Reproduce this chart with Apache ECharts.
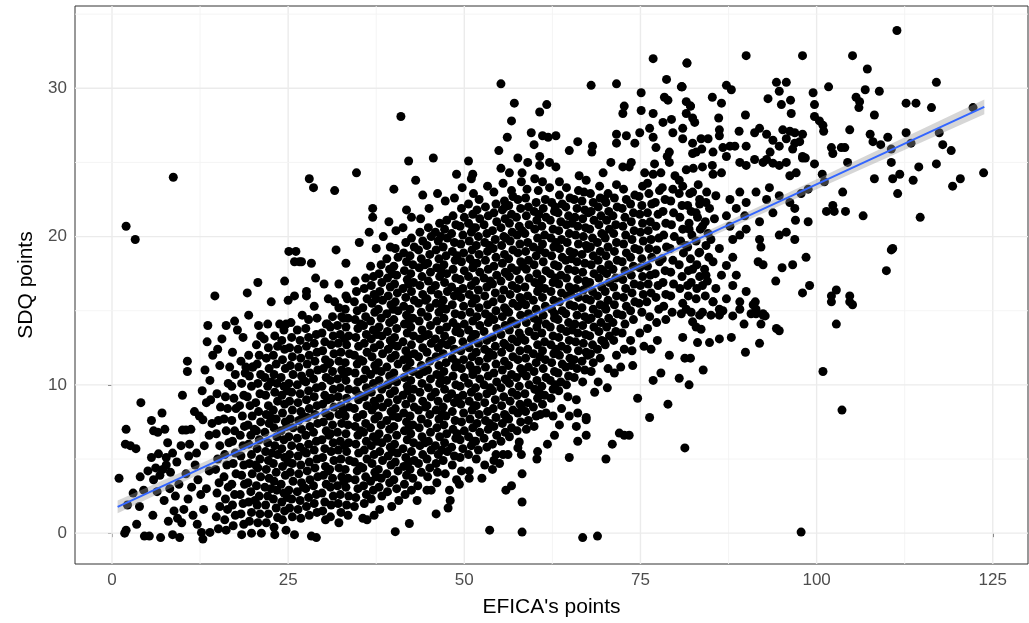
<!DOCTYPE html>
<html><head><meta charset="utf-8">
<script src="https://cdn.jsdelivr.net/npm/echarts@6/dist/echarts.min.js"></script>
<style>html,body{margin:0;padding:0;background:#fff}#c{width:1029px;height:623px}</style>
</head><body><div id="c"></div>
<script>
// Axis ticks / gridlines
const xTicks=[0,25,50,75,100,125];
const xMinor=[12.5,37.5,62.5,87.5,112.5];
const yTicks=[0,10,20,30];
const yMinor=[5,15,25,35];
// Fitted line (lm) and its confidence band
const fitX=[0.8,123.8];
const fitY=[1.77,28.75];
const bandX=[0.8,20,40,60,80,100,123.8];
const bandLo=[1.35,5.7,10.18,14.6,18.93,23.2,28.25];
const bandHi=[2.2,6.26,10.56,14.92,19.37,23.86,29.25];
// Observations [EFICA's points, SDQ points]
const leftFringe=[[1.0,3.7],[2.0,20.7],[3.3,19.8],[8.7,24.0],[2.0,7.0],[1.9,6.0],[2.6,5.9],[3.4,5.7],[4.1,8.8],[5.6,7.6],[5.9,6.9],[6.5,6.8],[7.1,8.1],[7.5,7.0],[10.0,9.3],[10.0,6.95],[10.5,6.95],[11.2,7.0],[11.7,8.2],[12.4,7.9],[12.9,7.65],[9.8,5.9],[11.0,6.0],[5.6,5.1],[6.6,5.35],[7.7,5.1],[8.6,5.4],[5.1,4.2],[5.9,3.6],[7.2,4.3],[7.7,4.6],[4.5,2.9],[2.2,1.9],[3.9,1.8],[5.8,1.2],[3.5,0.6],[2.0,0.2],[1.8,0.0],[4.6,-0.2],[5.3,-0.2],[6.9,-0.3],[8.6,-0.1],[9.6,-0.3],[12.7,0.05],[12.9,-0.4],[13.9,0.05],[10.7,11.6],[10.7,10.9],[13.2,11.0],[13.6,14.0],
[8.2,3.0],[9.0,2.5],[9.5,3.3],[8.8,1.5],[9.3,1.0],[10.2,1.6],[10.8,2.3],[11.3,3.1],[10.5,4.0],[11.8,4.6],[12.2,3.6],[12.6,2.6],[13.0,1.6],[13.4,3.0],[13.8,4.2],[12.0,5.4],[13.1,5.9],[13.8,6.6],[14.2,7.4],[11.5,1.2],[12.1,0.6],[9.9,0.7],[8.0,0.8],[7.4,2.2],[6.4,2.8],[6.8,3.9],[8.3,4.1],[9.2,4.8],[10.9,5.2],[14.0,9.0],[13.4,8.8],[12.8,9.6],[13.9,10.3],[14.3,12.0],[6.2,4.4],[4.0,3.8],[3.0,2.7],[7.9,6.1],[13.5,12.9]];
const core15to30=[
[15.1,0.3],[14.8,1.1],[15.3,1.8],[14.9,2.7],[15.2,3.4],[14.7,4.3],[15.0,5.0],[15.3,5.9],[14.8,6.7],[15.1,7.6],[15.4,8.5],[14.9,9.4],[15.3,11.3],[15.0,12.4],[14.6,16.0],[15.6,13.1],
[16.2,0.2],[16.0,0.9],[16.4,1.6],[16.1,2.3],[16.5,3.1],[15.9,3.8],[16.3,4.6],[16.0,5.3],[16.6,6.1],[16.2,6.9],[15.9,7.7],[16.4,8.4],[16.1,9.2],[16.5,10.1],[16.2,14.0],[16.7,11.2],
[17.2,0.5],[17.5,1.2],[17.1,1.9],[17.4,2.6],[17.0,3.3],[17.6,4.0],[17.2,4.7],[17.5,5.4],[17.1,6.2],[17.4,6.9],[17.0,7.6],[17.6,8.4],[17.3,9.1],[17.0,9.9],[17.5,10.7],[17.1,12.2],[17.4,14.3],[17.8,13.7],
[18.4,-0.1],[18.7,0.6],[18.3,1.3],[18.6,2.0],[18.2,2.6],[18.8,3.3],[18.4,3.9],[18.7,4.6],[18.3,5.2],[18.6,5.9],[18.2,6.6],[18.8,7.2],[18.5,7.9],[18.1,8.6],[18.7,9.3],[18.4,10.1],[18.9,10.8],[18.3,11.6],[18.6,13.2],
[19.8,0.0],[19.5,0.8],[19.8,1.4],[19.4,2.1],[19.7,2.8],[19.3,3.4],[19.9,4.0],[19.5,4.7],[19.8,5.3],[19.4,6.0],[19.7,6.6],[19.3,7.3],[19.9,7.9],[19.6,8.6],[19.2,9.2],[19.8,9.9],[19.5,10.6],[19.9,11.2],[19.4,12.0],[19.2,16.2],[19.4,14.7],[19.0,11.2],[20.0,11.2],
[21.2,0.0],[20.7,0.7],[21.0,1.3],[20.6,1.9],[20.9,2.5],[20.5,3.2],[21.1,3.8],[20.7,4.4],[21.0,5.0],[20.6,5.7],[20.9,6.3],[20.5,6.9],[21.1,7.5],[20.8,8.2],[20.4,8.8],[21.0,9.4],[20.7,10.1],[21.1,10.7],[20.6,11.4],[20.9,12.0],[20.5,12.7],[20.8,14.0],[20.7,16.9],[21.1,13.3],
[21.9,0.7],[22.2,1.3],[21.8,1.9],[22.1,2.5],[21.7,3.1],[22.3,3.7],[21.9,4.3],[22.2,4.9],[21.8,5.5],[22.1,6.1],[21.7,6.8],[22.3,7.4],[21.9,8.0],[22.2,8.6],[21.8,9.3],[22.1,9.9],[21.7,10.5],[22.3,11.1],[21.9,11.8],[22.2,12.5],[22.1,14.1],[22.6,15.6],[21.6,13.1],
[23.1,-0.1],[23.5,1.05],[23.0,0.4],[23.3,1.7],[22.9,2.3],[23.4,2.9],[23.0,3.5],[23.3,4.1],[22.9,4.7],[23.5,5.3],[23.1,5.9],[23.4,6.5],[23.0,7.1],[23.3,7.7],[22.9,8.3],[23.5,8.9],[23.1,9.5],[23.4,10.1],[23.0,10.7],[23.3,11.4],[22.9,12.0],[23.5,12.6],[23.1,13.3],[23.8,14.1],
[24.7,0.2],[24.2,0.9],[24.5,1.5],[24.1,2.1],[24.4,2.7],[24.0,3.3],[24.6,3.9],[24.2,4.5],[24.5,5.1],[24.1,5.7],[24.4,6.3],[24.0,6.9],[24.6,7.5],[24.2,8.1],[24.5,8.7],[24.1,9.3],[24.4,9.9],[24.0,10.5],[24.6,11.1],[24.2,11.7],[24.5,12.4],[24.1,13.0],[24.4,13.7],[24.7,14.1],[24.5,17.0],
[25.9,-0.1],[25.6,1.1],[25.2,1.7],[25.5,2.3],[25.1,2.9],[25.7,3.5],[25.3,4.1],[25.6,4.7],[25.2,5.3],[25.5,5.9],[25.1,6.5],[25.7,7.1],[25.3,7.7],[25.6,8.3],[25.2,8.9],[25.5,9.5],[25.1,10.1],[25.7,10.7],[25.3,11.3],[25.6,11.9],[25.2,12.5],[25.5,13.2],[25.0,15.7],[25.1,19.0],[25.9,18.3],[25.9,16.0],[25.4,14.2],
[26.8,1.0],[26.4,1.6],[26.7,2.2],[26.3,2.8],[26.9,3.4],[26.5,4.0],[26.8,4.6],[26.4,5.2],[26.7,5.8],[26.3,6.4],[26.9,7.0],[26.5,7.6],[26.8,8.2],[26.4,8.8],[26.7,9.4],[26.3,10.0],[26.9,10.6],[26.5,11.2],[26.8,11.8],[26.4,12.4],[26.7,13.0],[26.3,13.7],[26.1,19.0],[26.6,18.3],[26.9,18.3],[27.0,14.7],
[28.0,1.2],[27.6,1.8],[27.9,2.4],[27.5,3.0],[28.1,3.6],[27.7,4.2],[28.0,4.8],[27.6,5.4],[27.9,6.0],[27.5,6.6],[28.1,7.2],[27.7,7.8],[28.0,8.4],[27.6,9.0],[27.9,9.6],[27.5,10.2],[28.1,10.8],[27.7,11.4],[28.0,12.0],[27.6,12.6],[27.9,13.2],[27.5,13.8],[27.9,14.4],[27.6,16.3],[27.6,16.0],[28.3,18.2],[28.0,23.9],[28.6,23.3],[28.3,-0.2],
[29.0,-0.3],[29.1,1.4],[28.7,2.0],[29.0,2.6],[28.6,3.2],[29.2,3.8],[28.8,4.4],[29.1,5.0],[28.7,5.6],[29.0,6.2],[28.6,6.8],[29.2,7.4],[28.8,8.0],[29.1,8.6],[28.7,9.2],[29.0,9.8],[28.6,10.4],[29.2,11.0],[28.8,11.6],[29.1,12.2],[28.7,12.8],[29.0,13.4],[28.9,17.2],[29.1,14.5],[28.7,15.3]];
const core30to45=[
[30.3,0.9],[29.9,1.5],[30.2,2.1],[29.8,2.7],[30.4,3.3],[30.0,3.9],[30.3,4.5],[29.9,5.1],[30.2,5.7],[29.8,6.3],[30.4,6.9],[30.0,7.5],[30.3,8.1],[29.9,8.7],[30.2,9.3],[29.8,9.9],[30.4,10.5],[30.0,11.1],[30.3,11.7],[29.9,12.3],[30.2,12.9],[29.8,13.5],[30.4,14.1],[30.6,14.1],[30.7,15.8],[30.1,16.8],
[31.0,1.1],[31.1,1.9],[31.4,2.5],[31.0,3.1],[31.3,3.7],[30.9,4.3],[31.5,4.9],[31.1,5.5],[31.4,6.1],[31.0,6.7],[31.3,7.3],[30.9,7.9],[31.5,8.5],[31.1,9.1],[31.4,9.7],[31.0,10.3],[31.3,10.9],[30.9,11.5],[31.5,12.1],[31.1,12.7],[31.4,13.3],[31.0,13.9],[31.3,14.6],[31.6,23.1],[31.8,19.1],[31.6,15.6],
[32.2,0.7],[32.5,1.4],[32.1,2.0],[32.4,2.6],[32.0,3.2],[32.6,3.8],[32.2,4.4],[32.5,5.0],[32.1,5.6],[32.4,6.2],[32.0,6.8],[32.6,7.4],[32.2,8.0],[32.5,8.6],[32.1,9.2],[32.4,9.8],[32.0,10.4],[32.6,11.0],[32.2,11.6],[32.5,12.2],[32.1,12.8],[32.4,13.4],[32.0,14.0],[32.6,14.6],[32.2,15.2],[32.2,16.8],
[33.5,1.2],[33.3,1.9],[33.6,2.5],[33.2,3.1],[33.5,3.7],[33.1,4.3],[33.7,4.9],[33.3,5.5],[33.6,6.1],[33.2,6.7],[33.5,7.3],[33.1,7.9],[33.7,8.5],[33.3,9.1],[33.6,9.7],[33.2,10.3],[33.5,10.9],[33.1,11.5],[33.7,12.1],[33.3,12.7],[33.6,13.3],[33.2,13.9],[33.5,14.5],[33.1,15.1],[33.4,15.8],[33.2,16.0],[33.2,18.2],[32.8,14.5],
[34.4,1.8],[34.6,2.4],[34.9,3.0],[34.5,3.6],[34.8,4.2],[34.4,4.8],[35.0,5.4],[34.6,6.0],[34.9,6.6],[34.5,7.2],[34.8,7.8],[34.4,8.4],[35.0,9.0],[34.6,9.6],[34.9,10.2],[34.5,10.8],[34.8,11.4],[34.4,12.0],[35.0,12.6],[34.6,13.2],[34.9,13.8],[34.5,14.4],[34.8,15.0],[34.4,15.6],[34.7,16.3],[34.5,17.0],[34.7,24.3],[35.1,19.6],
[35.6,1.0],[35.8,2.0],[36.1,2.6],[35.7,3.2],[36.0,3.8],[35.6,4.4],[36.2,5.0],[35.8,5.6],[36.1,6.2],[35.7,6.8],[36.0,7.4],[35.6,8.0],[36.2,8.6],[35.8,9.2],[36.1,9.8],[35.7,10.4],[36.0,11.0],[35.6,11.6],[36.2,12.2],[35.8,12.8],[36.1,13.4],[35.7,14.0],[36.0,14.6],[35.6,15.2],[36.2,15.8],[35.8,16.5],[36.0,17.2],[36.2,0.9],[36.5,20.3],
[37.2,1.2],[36.8,2.3],[37.1,2.9],[36.7,3.5],[37.3,4.1],[36.9,4.7],[37.2,5.3],[36.8,5.9],[37.1,6.5],[36.7,7.1],[37.3,7.7],[36.9,8.3],[37.2,8.9],[36.8,9.5],[37.1,10.1],[36.7,10.7],[37.3,11.3],[36.9,11.9],[37.2,12.5],[36.8,13.1],[37.1,13.7],[36.7,14.3],[37.3,14.9],[36.9,15.5],[37.2,16.1],[36.8,16.7],[37.1,17.3],[36.7,18.0],[37.0,21.9],[37.0,21.3],[37.5,19.2],
[38.0,1.6],[38.3,2.5],[37.9,3.1],[38.2,3.7],[37.8,4.3],[38.4,4.9],[38.0,5.5],[38.3,6.1],[37.9,6.7],[38.2,7.3],[37.8,7.9],[38.4,8.5],[38.0,9.1],[38.3,9.7],[37.9,10.3],[38.2,10.9],[37.8,11.5],[38.4,12.1],[38.0,12.7],[38.3,13.3],[37.9,13.9],[38.2,14.5],[37.8,15.1],[38.4,15.7],[38.0,16.3],[38.3,16.9],[37.9,17.5],[38.2,18.1],[38.5,20.0],
[39.7,1.8],[39.1,2.8],[39.4,3.4],[39.0,4.0],[39.6,4.6],[39.2,5.2],[39.5,5.8],[39.1,6.4],[39.4,7.0],[39.0,7.6],[39.6,8.2],[39.2,8.8],[39.5,9.4],[39.1,10.0],[39.4,10.6],[39.0,11.2],[39.6,11.8],[39.2,12.4],[39.5,13.0],[39.1,13.6],[39.4,14.2],[39.0,14.8],[39.6,15.4],[39.2,16.0],[39.5,16.6],[39.1,17.2],[39.4,17.8],[39.0,18.5],[39.5,19.3],[40.0,23.2],[39.3,21.0],
[40.2,0.1],[40.4,3.0],[40.0,3.6],[40.6,4.2],[40.2,4.8],[40.5,5.4],[40.1,6.0],[40.4,6.6],[40.0,7.2],[40.6,7.8],[40.2,8.4],[40.5,9.0],[40.1,9.6],[40.4,10.2],[40.0,10.8],[40.6,11.4],[40.2,12.0],[40.5,12.6],[40.1,13.2],[40.4,13.8],[40.0,14.4],[40.6,15.0],[40.2,15.6],[40.5,16.2],[40.1,16.8],[40.4,17.4],[40.0,18.0],[40.6,18.6],[40.2,19.2],[40.7,2.2],[40.3,20.4],
[41.0,28.1],[41.5,3.3],[41.8,3.9],[41.4,4.5],[41.7,5.1],[41.3,5.7],[41.9,6.3],[41.5,6.9],[41.8,7.5],[41.4,8.1],[41.7,8.7],[41.3,9.3],[41.9,9.9],[41.5,10.5],[41.8,11.1],[41.4,11.7],[41.7,12.3],[41.3,12.9],[41.9,13.5],[41.5,14.1],[41.8,14.7],[41.4,15.3],[41.7,15.9],[41.3,16.5],[41.9,17.1],[41.5,17.7],[41.8,18.3],[41.4,18.9],[41.7,19.6],[41.8,21.8],[41.6,2.6],[41.3,20.6],
[42.2,0.65],[42.5,2.9],[42.7,3.7],[42.3,4.3],[42.9,4.9],[42.5,5.5],[42.8,6.1],[42.4,6.7],[42.7,7.3],[42.3,7.9],[42.9,8.5],[42.5,9.1],[42.8,9.7],[42.4,10.3],[42.7,10.9],[42.3,11.5],[42.9,12.1],[42.5,12.7],[42.8,13.3],[42.4,13.9],[42.7,14.5],[42.3,15.1],[42.9,15.7],[42.5,16.3],[42.8,16.9],[42.4,17.5],[42.7,18.1],[42.3,18.7],[42.9,19.3],[42.5,19.9],[42.1,25.1],[42.5,21.3],
[43.3,2.2],[43.4,3.2],[43.9,4.1],[43.5,4.7],[44.1,5.3],[43.7,5.9],[44.0,6.5],[43.6,7.1],[43.9,7.7],[43.5,8.3],[44.1,8.9],[43.7,9.5],[44.0,10.1],[43.6,10.7],[43.9,11.3],[43.5,11.9],[44.1,12.5],[43.7,13.1],[44.0,13.7],[43.6,14.3],[43.9,14.9],[43.5,15.5],[44.1,16.1],[43.7,16.7],[44.0,17.3],[43.6,17.9],[43.9,18.5],[43.5,19.1],[44.1,19.7],[43.7,20.3],[43.1,23.8],[44.1,22.8],[43.8,21.2],
[44.7,2.9],[45.3,2.9],[44.8,3.8],[45.1,4.4],[44.7,5.0],[45.3,5.6],[44.9,6.2],[45.2,6.8],[44.8,7.4],[45.1,8.0],[44.7,8.6],[45.3,9.2],[44.9,9.8],[45.2,10.4],[44.8,11.0],[45.1,11.6],[44.7,12.2],[45.3,12.8],[44.9,13.4],[45.2,14.0],[44.8,14.6],[45.1,15.2],[44.7,15.8],[45.3,16.4],[44.9,17.0],[45.2,17.6],[44.8,18.2],[45.1,18.8],[44.7,19.4],[45.3,20.0],[44.9,20.6],[45.6,25.3],[45.0,21.9]];
const core45to60=[
[46.0,1.3],[46.2,4.1],[46.0,4.7],[46.3,5.3],[45.9,5.9],[46.5,6.5],[46.1,7.1],[46.4,7.7],[46.0,8.3],[46.3,8.9],[45.9,9.5],[46.5,10.1],[46.1,10.7],[46.4,11.3],[46.0,11.9],[46.3,12.5],[45.9,13.1],[46.5,13.7],[46.1,14.3],[46.4,14.9],[46.0,15.5],[46.3,16.1],[45.9,16.7],[46.5,17.3],[46.1,17.9],[46.4,18.5],[46.0,19.1],[46.3,19.7],[45.9,20.3],[46.5,20.9],[46.2,22.9],[46.1,3.4],
[47.7,1.7],[47.9,2.9],[47.3,4.0],[47.0,4.9],[47.6,5.5],[47.2,6.1],[47.5,6.7],[47.1,7.3],[47.4,7.9],[47.0,8.5],[47.6,9.1],[47.2,9.7],[47.5,10.3],[47.1,10.9],[47.4,11.5],[47.0,12.1],[47.6,12.7],[47.2,13.3],[47.5,13.9],[47.1,14.5],[47.4,15.1],[47.0,15.7],[47.6,16.3],[47.2,16.9],[47.5,17.5],[47.1,18.1],[47.4,18.7],[47.0,19.3],[47.6,19.9],[47.2,20.5],[47.5,21.1],[47.3,22.4],
[48.0,2.2],[48.9,3.6],[48.3,4.6],[48.6,5.2],[48.2,5.8],[48.8,6.4],[48.4,7.0],[48.7,7.6],[48.3,8.2],[48.6,8.8],[48.2,9.4],[48.8,10.0],[48.4,10.6],[48.7,11.2],[48.3,11.8],[48.6,12.4],[48.2,13.0],[48.8,13.6],[48.4,14.2],[48.7,14.8],[48.3,15.4],[48.6,16.0],[48.2,16.6],[48.8,17.2],[48.4,17.8],[48.7,18.4],[48.3,19.0],[48.6,19.6],[48.2,20.2],[48.8,20.8],[48.4,21.4],[48.9,24.2],[48.6,22.6],
[49.6,4.2],[49.4,5.1],[49.8,5.7],[49.4,6.3],[50.0,6.9],[49.6,7.5],[49.9,8.1],[49.5,8.7],[49.8,9.3],[49.4,9.9],[50.0,10.5],[49.6,11.1],[49.9,11.7],[49.5,12.3],[49.8,12.9],[49.4,13.5],[50.0,14.1],[49.6,14.7],[49.9,15.3],[49.5,15.9],[49.8,16.5],[49.4,17.1],[50.0,17.7],[49.6,18.3],[49.9,18.9],[49.5,19.5],[49.8,20.1],[49.4,20.7],[50.0,21.3],[49.6,21.9],[49.3,3.3],[49.7,23.3],
[50.7,4.2],[50.7,3.7],[50.6,5.3],[51.0,5.9],[50.6,6.5],[51.2,7.1],[50.8,7.7],[51.1,8.3],[50.7,8.9],[51.0,9.5],[50.6,10.1],[51.2,10.7],[50.8,11.3],[51.1,11.9],[50.7,12.5],[51.0,13.1],[50.6,13.7],[51.2,14.3],[50.8,14.9],[51.1,15.5],[50.7,16.1],[51.0,16.7],[50.6,17.3],[51.2,17.9],[50.8,18.5],[51.1,19.1],[50.7,19.7],[51.0,20.3],[50.6,20.9],[51.2,21.5],[50.6,22.2],[50.6,25.1],[51.2,24.2],[51.0,23.9],[51.3,22.9],
[52.5,3.7],[51.7,5.0],[52.0,5.6],[51.6,6.2],[52.2,6.8],[51.8,7.4],[52.1,8.0],[51.7,8.6],[52.0,9.2],[51.6,9.8],[52.2,10.4],[51.8,11.0],[52.1,11.6],[51.7,12.2],[52.0,12.8],[51.6,13.4],[52.2,14.0],[51.8,14.6],[52.1,15.2],[51.7,15.8],[52.0,16.4],[51.6,17.0],[52.2,17.6],[51.8,18.2],[52.1,18.8],[51.7,19.4],[52.0,20.0],[51.6,20.6],[52.2,21.2],[51.8,21.8],[52.1,22.5],
[53.6,0.2],[52.9,4.6],[53.2,5.8],[52.8,6.4],[53.4,7.0],[53.0,7.6],[53.3,8.2],[52.9,8.8],[53.2,9.4],[52.8,10.0],[53.4,10.6],[53.0,11.2],[53.3,11.8],[52.9,12.4],[53.2,13.0],[52.8,13.6],[53.4,14.2],[53.0,14.8],[53.3,15.4],[52.9,16.0],[53.2,16.6],[52.8,17.2],[53.4,17.8],[53.0,18.4],[53.3,19.0],[52.9,19.6],[53.2,20.2],[52.8,20.8],[53.4,21.4],[53.0,22.0],[53.3,23.4],
[54.0,4.3],[54.2,4.9],[54.5,5.3],[54.0,6.0],[54.6,6.6],[54.2,7.2],[54.5,7.8],[54.1,8.4],[54.4,9.0],[54.0,9.6],[54.6,10.2],[54.2,10.8],[54.5,11.4],[54.1,12.0],[54.4,12.6],[54.0,13.2],[54.6,13.8],[54.2,14.4],[54.5,15.0],[54.1,15.6],[54.4,16.2],[54.0,16.8],[54.6,17.4],[54.2,18.0],[54.5,18.6],[54.1,19.2],[54.4,19.8],[54.0,20.4],[54.6,21.0],[54.2,21.6],[54.5,22.2],[54.2,23.0],[54.9,25.8],
[55.0,4.7],[55.5,5.3],[55.9,2.9],[55.2,6.2],[55.8,6.8],[55.4,7.4],[55.7,8.0],[55.3,8.6],[55.6,9.2],[55.2,9.8],[55.8,10.4],[55.4,11.0],[55.7,11.6],[55.3,12.2],[55.6,12.8],[55.2,13.4],[55.8,14.0],[55.4,14.6],[55.7,15.2],[55.3,15.8],[55.6,16.4],[55.2,17.0],[55.8,17.6],[55.4,18.2],[55.7,18.8],[55.3,19.4],[55.6,20.0],[55.2,20.6],[55.8,21.2],[55.4,21.8],[55.7,22.4],[55.2,30.3],[55.5,23.6],[55.2,24.6],
[56.2,5.3],[56.7,3.2],[56.4,6.5],[56.7,7.1],[56.3,7.7],[56.9,8.3],[56.5,8.9],[56.8,9.5],[56.4,10.1],[56.7,10.7],[56.3,11.3],[56.9,11.9],[56.5,12.5],[56.8,13.1],[56.4,13.7],[56.7,14.3],[56.3,14.9],[56.9,15.5],[56.5,16.1],[56.8,16.7],[56.4,17.3],[56.7,17.9],[56.3,18.5],[56.9,19.1],[56.5,19.7],[56.8,20.3],[56.4,20.9],[56.7,21.5],[56.3,22.1],[56.9,22.7],[56.7,23.1],[56.1,26.7],[56.7,27.8],[56.4,24.3],
[57.6,5.75],[58.1,5.3],[57.8,6.15],[57.5,6.9],[58.0,7.5],[57.6,8.1],[57.9,8.7],[57.5,9.3],[57.8,9.9],[57.4,10.5],[58.0,11.1],[57.6,11.7],[57.9,12.3],[57.5,12.9],[57.8,13.5],[57.4,14.1],[58.0,14.7],[57.6,15.3],[57.9,15.9],[57.5,16.5],[57.8,17.1],[57.4,17.7],[58.0,18.3],[57.6,18.9],[57.9,19.5],[57.5,20.1],[57.8,20.7],[57.4,21.3],[58.0,21.9],[57.6,22.5],[58.1,23.7],[57.6,25.3],[57.1,29.0],[58.2,24.3],[58.2,4.0],[58.2,2.1],[58.2,0.07],
[58.8,7.0],[59.1,7.6],[58.7,8.2],[59.0,8.8],[58.6,9.4],[59.2,10.0],[58.8,10.6],[59.1,11.2],[58.7,11.8],[59.0,12.4],[58.6,13.0],[59.2,13.6],[58.8,14.2],[59.1,14.8],[58.7,15.4],[59.0,16.0],[58.6,16.6],[59.2,17.2],[58.8,17.8],[59.1,18.4],[58.7,19.0],[59.0,19.6],[58.6,20.2],[59.2,20.8],[58.8,21.4],[59.1,22.0],[58.7,22.6],[59.0,25.0],[59.5,27.0],[58.9,23.2]];
const core60to75=[
[60.4,5.5],[60.3,5.0],[59.9,7.2],[60.2,7.9],[59.8,8.5],[60.4,9.1],[60.0,9.7],[60.3,10.3],[59.9,10.9],[60.2,11.5],[59.8,12.1],[60.4,12.7],[60.0,13.3],[60.3,13.9],[59.9,14.5],[60.2,15.1],[59.8,15.7],[60.4,16.3],[60.0,16.9],[60.3,17.5],[59.9,18.1],[60.2,18.7],[59.8,19.3],[60.4,19.9],[60.0,20.5],[60.3,21.1],[59.9,21.7],[60.2,22.3],[60.0,23.9],[59.9,26.2],[60.7,28.4],[60.7,25.4],[60.7,24.8],[60.8,8.0],[60.5,23.1],
[61.8,6.0],[61.6,8.1],[61.1,8.7],[61.4,9.3],[61.0,9.9],[61.6,10.5],[61.2,11.1],[61.5,11.7],[61.1,12.3],[61.4,12.9],[61.0,13.5],[61.6,14.1],[61.2,14.7],[61.5,15.3],[61.1,15.9],[61.4,16.5],[61.0,17.1],[61.6,17.7],[61.2,18.3],[61.5,18.9],[61.1,19.5],[61.4,20.1],[61.0,20.7],[61.6,21.3],[61.2,21.9],[61.5,22.5],[61.1,23.7],[61.1,26.8],[61.7,28.9],[61.9,26.7],
[62.8,6.6],[62.6,7.9],[62.3,9.1],[62.6,9.7],[62.2,10.3],[62.8,10.9],[62.4,11.5],[62.7,12.1],[62.3,12.7],[62.6,13.3],[62.2,13.9],[62.8,14.5],[62.4,15.1],[62.7,15.7],[62.3,16.3],[62.6,16.9],[62.2,17.5],[62.8,18.1],[62.4,18.7],[62.7,19.3],[62.3,19.9],[62.6,20.5],[62.2,21.1],[62.8,21.7],[62.4,22.3],[62.1,23.3],[62.1,25.0],[63.0,26.8],[63.0,24.7],
[63.5,7.3],[63.8,8.4],[63.4,9.6],[63.7,10.2],[63.3,10.8],[63.9,11.4],[63.5,12.0],[63.8,12.6],[63.4,13.2],[63.7,13.8],[63.3,14.4],[63.9,15.0],[63.5,15.6],[63.8,16.2],[63.4,16.8],[63.7,17.4],[63.3,18.0],[63.9,18.6],[63.5,19.2],[63.8,19.8],[63.4,20.4],[63.7,21.0],[63.3,21.6],[63.9,22.2],[63.5,22.8],[63.5,23.7],
[64.9,5.1],[64.9,7.9],[64.7,9.2],[64.5,10.0],[64.8,10.6],[64.4,11.2],[65.0,11.8],[64.6,12.4],[64.9,13.0],[64.5,13.6],[64.8,14.2],[64.4,14.8],[65.0,15.4],[64.6,16.0],[64.9,16.6],[64.5,17.2],[64.8,17.8],[64.4,18.4],[65.0,19.0],[64.6,19.6],[64.9,20.2],[64.5,20.8],[64.8,21.4],[64.4,22.0],[65.0,22.6],[64.5,23.3],[64.9,25.8],
[65.9,7.2],[65.9,9.0],[66.1,8.1],[65.6,10.5],[66.0,11.1],[65.6,11.7],[66.2,12.3],[65.8,12.9],[66.1,13.5],[65.7,14.1],[66.0,14.7],[65.6,15.3],[66.2,15.9],[65.8,16.5],[66.1,17.1],[65.7,17.7],[66.0,18.3],[65.6,18.9],[66.2,19.5],[65.8,20.1],[66.1,20.7],[65.7,21.3],[66.0,21.9],[65.6,22.5],[66.2,23.1],[66.3,24.1],[66.1,26.4],[66.1,6.2],
[67.3,6.6],[67.3,7.65],[67.3,7.8],[66.8,10.2],[67.1,11.0],[66.7,11.6],[67.3,12.2],[66.9,12.8],[67.2,13.4],[66.8,14.0],[67.1,14.6],[66.7,15.2],[67.3,15.8],[66.9,16.4],[67.2,17.0],[66.8,17.6],[67.1,18.2],[66.7,18.8],[67.3,19.4],[66.9,20.0],[67.2,20.6],[66.8,21.2],[67.1,21.8],[66.7,22.4],[67.3,23.8],[66.8,-0.3],[67.0,23.0],
[68.0,10.9],[68.3,11.5],[67.9,12.1],[68.2,12.7],[67.8,13.3],[68.4,13.9],[68.0,14.5],[68.3,15.1],[67.9,15.7],[68.2,16.3],[67.8,16.9],[68.4,17.5],[68.0,18.1],[68.3,18.7],[67.9,19.3],[68.2,19.9],[67.8,20.5],[68.4,21.1],[68.0,21.7],[68.3,22.3],[67.9,22.9],[68.2,26.1],[68.1,25.7],[68.0,30.2],[68.9,-0.2],[68.5,9.5],
[69.0,10.2],[69.3,11.8],[68.9,12.4],[69.5,13.0],[69.1,13.6],[69.4,14.2],[69.0,14.8],[69.3,15.4],[68.9,16.0],[69.5,16.6],[69.1,17.2],[69.4,17.8],[69.0,18.4],[69.3,19.0],[68.9,19.6],[69.5,20.2],[69.1,20.8],[69.4,21.4],[69.0,22.0],[69.3,22.6],[69.7,24.3],[69.2,23.4],
[70.1,5.0],[70.4,11.1],[70.0,12.7],[70.6,13.3],[70.2,13.9],[70.5,14.5],[70.1,15.1],[70.4,15.7],[70.0,16.3],[70.6,16.9],[70.2,17.5],[70.5,18.1],[70.1,18.7],[70.4,19.3],[70.0,19.9],[70.6,20.5],[70.2,21.1],[70.5,21.7],[70.1,22.3],[70.4,22.9],[70.8,25.0],[70.3,9.8],
[71.0,6.0],[71.6,12.0],[71.2,13.0],[71.5,13.6],[71.1,14.2],[71.7,14.8],[71.3,15.4],[71.6,16.0],[71.2,16.6],[71.5,17.2],[71.1,17.8],[71.7,18.4],[71.3,19.0],[71.6,19.6],[71.2,20.2],[71.5,20.8],[71.1,21.4],[71.7,22.0],[71.3,22.6],[71.6,23.5],[71.6,26.9],[71.6,26.3],[71.6,30.3],[71.3,10.8],
[72.0,6.75],[72.7,6.6],[72.7,12.4],[72.4,13.5],[72.8,14.1],[72.4,14.7],[73.0,15.3],[72.6,15.9],[72.9,16.5],[72.5,17.1],[72.8,17.7],[72.4,18.3],[73.0,18.9],[72.6,19.5],[72.9,20.1],[72.5,20.7],[72.8,21.3],[72.4,21.9],[73.0,22.5],[72.6,23.2],[72.5,24.7],[73.0,26.8],[72.7,28.8],[72.5,28.3],[72.2,11.2],
[73.4,6.6],[73.9,11.3],[73.6,13.0],[74.0,14.4],[73.6,15.0],[74.2,15.6],[73.8,16.2],[74.1,16.8],[73.7,17.4],[74.0,18.0],[73.6,18.6],[74.2,19.2],[73.8,19.8],[74.1,20.4],[73.7,21.0],[74.0,21.6],[73.6,22.2],[74.2,22.8],[73.4,24.7],[73.7,25.0],[74.2,26.3],[74.6,9.1],[73.8,12.3]];
const core75to85=[
[74.9,27.0],[75.1,29.7],[75.1,28.5],[75.6,24.3],[74.9,13.5],[75.2,14.9],[74.8,15.5],[75.4,16.1],[75.0,16.7],[75.3,17.3],[74.9,17.9],[75.2,18.5],[74.8,19.1],[75.4,19.7],[75.0,20.3],[75.3,20.9],[74.9,21.5],[75.2,22.1],[74.8,22.7],[75.3,23.4],[75.5,12.6],
[76.3,7.8],[76.8,10.3],[76.3,27.3],[76.8,26.7],[76.8,24.2],[77.2,26.0],[76.0,13.8],[76.3,14.6],[75.9,15.6],[76.5,16.2],[76.1,16.8],[76.4,17.4],[76.0,18.0],[76.6,18.6],[76.2,19.2],[76.5,19.8],[76.1,20.4],[76.4,21.0],[76.0,21.6],[76.6,22.2],[76.2,22.9],[76.0,23.6],[76.8,32.0],[76.5,12.4],[76.8,28.3],
[77.9,10.8],[77.9,24.3],[77.3,14.2],[77.6,15.1],[77.2,15.9],[77.5,16.7],[77.1,17.5],[77.7,18.3],[77.3,19.1],[77.6,19.9],[77.2,20.7],[77.5,21.5],[77.1,22.3],[77.7,23.1],[77.4,13.0],[77.0,24.9],
[78.9,8.7],[78.2,27.7],[78.4,29.4],[78.9,29.2],[78.7,30.6],[78.3,15.3],[78.6,16.1],[78.2,16.9],[78.5,17.7],[78.1,18.5],[78.7,19.3],[78.3,20.1],[78.6,20.9],[78.2,21.7],[78.5,22.5],[78.1,23.3],[78.6,14.4],[78.8,25.4],
[79.1,12.0],[79.4,27.9],[79.6,27.0],[79.1,25.0],[79.1,25.7],[79.3,16.0],[79.7,16.8],[79.3,17.6],[79.6,18.4],[79.2,19.2],[79.8,20.0],[79.4,20.8],[79.7,21.6],[79.3,22.4],[79.6,23.2],[79.5,14.9],[79.9,24.1],
[80.5,10.45],[81.0,27.3],[80.8,30.1],[80.9,30.1],[81.5,29.1],[81.5,28.3],[80.5,23.8],[81.5,24.5],[80.6,16.5],[80.9,17.3],[80.5,18.1],[81.1,18.9],[80.7,19.7],[81.0,20.5],[80.6,21.3],[80.9,22.1],[80.5,22.9],[81.0,15.5],[80.8,14.8],[81.3,5.75],[81.3,11.8],[81.0,13.2],
[81.6,31.7],[82.1,28.8],[82.4,28.0],[82.7,27.7],[81.9,10.0],[82.1,11.8],[81.8,16.0],[82.2,16.9],[81.8,17.7],[82.1,18.5],[81.7,19.3],[82.3,20.1],[81.9,20.9],[82.2,21.7],[82.0,22.9],[82.4,14.25],[82.2,14.9],[82.9,13.9],[82.5,24.6],
[83.1,12.85],[83.4,14.7],[83.6,13.75],[83.9,11.0],[83.0,16.5],[83.4,17.3],[83.0,18.1],[83.3,18.9],[82.9,19.7],[83.5,20.5],[83.1,21.3],[83.4,22.2],[83.7,25.9],[83.2,23.5],
[84.8,12.85],[85.0,14.7],[85.3,15.6],[84.2,16.0],[84.5,17.0],[84.1,17.8],[84.7,18.6],[84.3,19.4],[84.6,20.2],[84.2,21.0],[84.8,21.9],[84.4,23.0],[85.2,29.4],[84.6,26.6]];
const denseMiddle=[[30.7,4.2],[30.8,6.6],[30.6,9.0],[30.7,11.4],[32.9,3.5],[33.0,5.9],[32.8,8.3],[32.9,10.7],[33.0,13.1],[35.2,4.5],[35.3,6.9],[35.1,9.3],[35.2,11.7],[35.3,14.1],[37.5,3.8],[37.6,6.2],[37.4,8.6],[37.5,11.0],[37.6,13.4],[37.5,15.8],[39.8,5.5],[39.9,7.9],[39.7,10.3],[39.8,12.7],[39.9,15.1],[39.8,17.5],[42.1,4.8],[42.2,7.2],[42.0,9.6],[42.1,12.0],[42.2,14.4],[42.1,16.8],[44.4,6.1],[44.5,8.5],[44.3,10.9],[44.4,13.3],[44.5,15.7],[44.4,18.1],[46.8,5.6],[46.9,8.0],[46.7,10.4],[46.8,12.8],[46.9,15.2],[46.8,17.6],[46.7,20.0],[49.0,6.7],[49.1,9.1],[48.9,11.5],[49.0,13.9],[49.1,16.3],[49.0,18.7],[51.3,6.2],[51.4,8.6],[51.2,11.0],[51.3,13.4],[51.4,15.8],[51.3,18.2],[51.2,20.6],[53.6,7.4],[53.7,9.8],[53.5,12.2],[53.6,14.6],[53.7,17.0],[53.6,19.4],[55.9,7.9],[56.0,10.3],[55.8,12.7],[55.9,15.1],[56.0,17.5],[55.9,19.9],[55.8,22.0],[58.2,8.4],[58.3,10.8],[58.1,13.2],[58.2,15.6],[58.3,18.0],[58.2,20.4],[60.6,9.5],[60.7,11.9],[60.5,14.3],[60.6,16.7],[60.7,19.1],[60.6,21.5],[62.9,10.0],[63.0,12.4],[62.8,14.8],[62.9,17.2],[63.0,19.6],[62.9,22.0],[65.2,11.3],[65.3,13.7],[65.1,16.1],[65.2,18.5],[65.3,20.9],[67.5,12.0],[67.6,14.4],[67.4,16.8],[67.5,19.2],[67.6,21.6],[69.8,12.9],[69.9,15.3],[69.7,17.7],[69.8,20.1],[69.9,22.5],[27.2,3.1],[27.3,5.5],[27.1,7.9],[27.2,10.3],[24.9,2.4],[25.0,4.8],[24.8,7.2],[24.9,9.6],[22.6,3.0],[22.7,5.4],[22.5,7.8],[22.6,10.2],[20.3,2.2],[20.4,4.6],[20.2,7.0]];
const upperRightBody=[[86.2,27.2],[89.0,27.1],[90.0,26.1],[91.2,27.0],[91.9,27.3],[92.9,26.9],[95.2,27.2],[96.2,27.1],[96.9,27.0],[98.0,26.9],[96.9,26.3],[98.0,25.4],[98.4,25.3],
[85.3,25.7],[86.7,26.0],[87.7,26.1],[88.4,26.1],[82.4,25.6],[82.9,25.7],[85.2,24.8],[83.8,24.7],[85.3,24.2],[86.5,24.3],[89.1,25.0],[90.0,24.8],[91.2,25.2],[92.4,25.0],[92.9,25.2],[93.8,24.95],[94.7,24.8],[95.7,25.0],[96.2,24.1],[97.1,24.3],[98.0,25.3],
[81.0,23.4],[82.4,23.0],[83.4,22.5],[81.7,22.1],[82.9,21.6],[84.3,22.3],[85.7,22.75],[87.7,22.5],[89.1,23.0],[90.0,22.3],[91.4,23.0],[88.6,21.9],[87.2,21.4],[89.8,21.4],[85.5,21.2],[83.8,20.7],[81.9,20.5],[87.7,20.7],[90.0,20.5],[91.9,21.0],[85.0,19.8],[88.1,19.8],[89.1,20.1],[86.2,19.2],[83.4,18.95],[81.5,19.4],[85.3,18.3],[87.2,18.05],[88.1,18.6],[82.4,17.8],[84.3,17.4],[86.5,17.4],[88.6,17.4],[81.7,16.7],[83.8,16.7],[85.7,16.5],[88.1,16.7],[90.0,16.3],[82.9,15.8],[85.3,15.6],[87.2,15.8],[89.1,15.1],[81.5,15.1],[91.0,15.4],[91.4,14.8],[92.4,14.8],[83.8,14.9],[86.2,14.7],
[93.4,25.7],[94.7,26.1],[96.6,25.9],[93.8,26.5],[95.7,26.6],[97.6,26.4],[93.3,23.3],[94.7,22.75],[96.2,22.3],[93.8,21.6],[92.9,22.5],[82.4,26.3],[83.6,26.6],[86.2,26.8],[87.2,25.4],[81.0,26.6]];
const rightFringe=[[86.2,13.1],[87.9,13.2],[86.2,15.1],[86.7,15.0],[88.1,14.65],[89.1,15.6],[89.7,14.1],[89.9,12.2],[90.7,14.8],[91.4,15.1],[91.3,15.6],[92.4,14.7],[92.7,14.65],[92.1,14.1],[91.9,12.8],[94.3,13.8],[94.7,13.65],[102.1,15.6],[104.7,15.6],[102.8,14.1],[100.9,10.9],[103.6,8.3],[97.8,0.07],[105.1,15.4],[102.1,16.0],[102.8,16.4],[104.7,16.0],[98.0,16.2],[99.0,16.7],[94.2,17.0],[95.1,17.9],[96.6,18.1],[98.5,18.6],[91.7,18.3],[92.4,18.1],[91.9,19.8],[92.1,19.3],[96.9,19.8],[94.7,20.1],[95.7,20.3],[97.0,21.1],[98.8,21.0],[96.9,21.9],[101.4,21.7],[102.3,22.1],[102.5,21.7],[104.1,21.7],[97.8,22.9],[98.8,23.2],[101.1,23.7],[100.8,24.2],[99.7,24.9],[103.7,23.0],[106.6,21.4],[104.4,25.0],[102.1,26.0],[102.3,25.6],[103.5,26.0],[104.0,26.0],[104.7,27.2],[99.7,28.1],[100.4,27.8],[100.9,27.5],[101.0,27.1],[99.5,29.7],[99.7,28.9],[101.7,30.1],[98.0,32.2],[105.1,32.2],[90.0,32.2],[107.2,31.3],[111.4,33.9],[117.0,30.4],[94.3,30.4],[95.7,30.4],[94.7,29.8],[87.2,30.2],[87.9,29.9],[93.1,29.3],[96.3,29.2],[95.0,28.9],[96.4,28.3],[89.9,28.2],[86.1,28.0],[86.5,29.0],[106.9,29.9],[108.9,29.8],[105.6,29.4],[106.1,29.1],[106.0,28.7],[112.7,29.0],[114.1,29.0],[116.3,28.7],[122.2,28.7],[108.2,28.2],[112.7,27.0],[110.1,26.7],[107.6,26.9],[108.0,26.4],[109.1,26.2],[110.6,25.9],[110.6,25.0],[117.4,27.0],[117.9,26.2],[119.1,25.8],[117.0,24.9],[114.5,24.7],[113.7,23.8],[111.8,24.2],[110.8,23.9],[111.5,22.9],[108.2,23.9],[114.7,21.3],[119.3,23.4],[120.4,23.9],[123.7,24.3],[113.4,26.3],[110.8,19.2],[110.6,19.1],[109.9,17.7],[81.6,31.7],[80.9,30.1],[82.1,28.8]];

const allPoints=[].concat(leftFringe,core15to30,core30to45,core45to60,core60to75,core75to85,denseMiddle,upperRightBody,rightFringe);

const gridData=[].concat(
  xTicks.map(v=>[v,0]), xMinor.map(v=>[v,1]),
  yTicks.map(v=>[v,2]), yMinor.map(v=>[v,3]));

const FONT="'Liberation Sans', Arial, sans-serif";
const chart=echarts.init(document.getElementById('c'),null,{renderer:'canvas'});
chart.setOption({
  animation:false,
  backgroundColor:'#ffffff',
  grid:{left:75,top:6,width:953,height:561,show:true,borderColor:'#333333',borderWidth:1,backgroundColor:'transparent'},
  xAxis:{type:'value',min:-5.25,max:130,
    name:"EFICA's points",nameLocation:'middle',nameGap:33,
    nameTextStyle:{fontFamily:FONT,fontSize:21,color:'#000'},
    axisLine:{show:false},splitLine:{show:false},
    axisTick:{show:true,length:4,customValues:xTicks,lineStyle:{color:'#333333',width:1}},
    axisLabel:{customValues:xTicks,margin:8,fontFamily:FONT,fontSize:17,color:'#4D4D4D'}},
  yAxis:{type:'value',min:-2.08,max:35.55,
    name:'SDQ points',nameLocation:'middle',nameGap:34,
    nameTextStyle:{fontFamily:FONT,fontSize:21,color:'#000'},
    axisLine:{show:false},splitLine:{show:false},
    axisTick:{show:true,length:4,customValues:yTicks,lineStyle:{color:'#333333',width:1}},
    axisLabel:{customValues:yTicks,margin:8,fontFamily:FONT,fontSize:17,color:'#4D4D4D'}},
  series:[
    {type:'custom',z:1,silent:true,data:gridData,
     renderItem:function(params,api){
       const cs=params.coordSys;const v=api.value(0);const k=api.value(1);
       const major=(k===0||k===2);let shape;
       if(k<2){const p=api.coord([v,0])[0];shape={x1:p,y1:cs.y,x2:p,y2:cs.y+cs.height};}
       else{const p=api.coord([0,v])[1];shape={x1:cs.x,y1:p,x2:cs.x+cs.width,y2:p};}
       return {type:'line',shape:shape,style:{stroke:major?'#EBEBEB':'#F3F3F3',lineWidth:major?1.4:0.9}};
     }},
    {type:'scatter',z:2,silent:true,data:allPoints,symbol:'circle',symbolSize:9,
     itemStyle:{color:'#000000',opacity:1},large:false},
    {type:'custom',z:3,silent:true,data:[[0,0]],
     renderItem:function(params,api){
       const pts=[];
       for(let i=0;i<bandX.length;i++)pts.push(api.coord([bandX[i],bandHi[i]]));
       for(let i=bandX.length-1;i>=0;i--)pts.push(api.coord([bandX[i],bandLo[i]]));
       return {type:'polygon',shape:{points:pts},style:{fill:'rgba(153,153,153,0.4)'}};
     }},
    {type:'line',z:4,silent:true,data:fitX.map((x,i)=>[x,fitY[i]]),symbol:'none',
     lineStyle:{color:'#3366FF',width:2}}
  ]
});
</script></body></html>
